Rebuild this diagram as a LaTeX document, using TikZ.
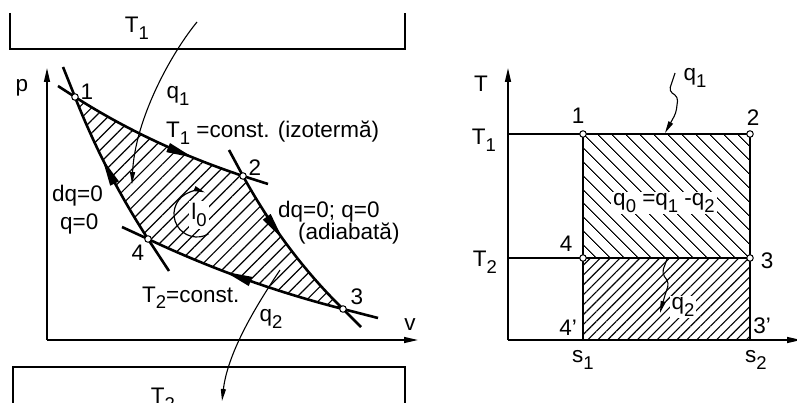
\documentclass[tikz,border=0pt]{standalone}
\usepackage{fontspec}
\setmainfont{Liberation Sans}
\usetikzlibrary{arrows.meta,patterns.meta,decorations.markings,calc}
\newcommand\sbs[1]{\raisebox{-0.55ex}{\fontsize{18.5}{18.5}\selectfont #1}}
\begin{document}
\begin{tikzpicture}[x=1pt,y=-1pt,
  lbl/.style={inner sep=0pt, font=\fontsize{22.5}{26}\selectfont},
  thk/.style={line width=2.6pt},
  thn/.style={line width=1.3pt},
  axis/.style={line width=1.4pt,-{Triangle[length=14pt,width=6pt]}},
  harr/.style={line width=1.1pt,-{Triangle[length=12pt,width=5pt]}},
  pnt/.style={circle,draw,fill=white,line width=1pt,inner sep=0pt,minimum size=6.5pt},
  midarrow/.style={postaction=decorate,decoration={markings,mark=at position #1 with {\arrow{Triangle[length=28pt,width=9pt]}}}},
  hatchA/.style={pattern={Lines[angle=45,distance=9pt,line width=1.2pt]}},
  hatchB/.style={pattern={Lines[angle=-45,distance=10.5pt,line width=1.2pt]}},
  hatchC/.style={pattern={Lines[angle=45,distance=7pt,line width=1.1pt]}},
]
\useasboundingbox (0,0) rectangle (797,403);

% ---------- reservoirs ----------
\draw[thk] (10,13) -- (10,49) -- (405,49) -- (405,13);
\draw[thk] (13,410) -- (13,367) -- (405,367) -- (405,410);
\node[lbl] (tres1) at (137,28) {T\sbs{1}};
\node[lbl] (tres2) at (163,399) {T\sbs{2}};

% ---------- p-v diagram ----------
\coordinate (O) at (47,340);
\coordinate (pEnd) at (47,68);
\coordinate (vEnd) at (418,340);
\draw[axis] (O) -- (pEnd);
\draw[axis] (O) -- (vEnd);
\node[lbl] (plab) at (22,88) {p};
\node[lbl] (vlab) at (410,325) {v};

\coordinate (A1) at (75,97);
\coordinate (A2) at (243,176);
\coordinate (A3) at (343,309);
\coordinate (A4) at (148,239);

\fill[hatchA] (A1) .. controls (127.5,130.5) and (183,156) .. (A2)
  .. controls (270,225) and (303,270) .. (A3)
  .. controls (275.7,291.9) and (210.7,268.6) .. (A4)
  .. controls (118.9,194.1) and (94.6,146.8) .. (A1) -- cycle;

\node[lbl,fill=white,inner sep=2pt] (l0) at (199,215) {l\sbs{0}};
\coordinate (C0) at (197,214);
\draw[line width=1.2pt,-{Triangle[length=11pt,width=5pt]}] ($(C0)+(60:23)$) arc[start angle=60,end angle=290,radius=23];

% extensions
\coordinate (E1a) at (58,86);
\coordinate (E1b) at (63,67);
\coordinate (E2a) at (268,184);
\coordinate (E2b) at (229,150);
\coordinate (E3a) at (378,318);
\coordinate (E3b) at (361,327);
\coordinate (E4a) at (122,227);
\coordinate (E4b) at (169,271);
\draw[thk] (E1a) -- (A1);
\draw[thk] (E1b) -- (A1);
\draw[thk] (A2) -- (E2a);
\draw[thk] (E2b) -- (A2);
\draw[thk] (A3) -- (E3a);
\draw[thk] (A3) -- (E3b);
\draw[thk] (E4a) -- (A4);
\draw[thk] (A4) -- (E4b);

\draw[thk,midarrow=0.72] (A1) .. controls (127.5,130.5) and (183,156) .. (A2);
\draw[thk,midarrow=0.45] (A2) .. controls (270,225) and (303,270) .. (A3);
\draw[thk,midarrow=0.6] (A3) .. controls (275.7,291.9) and (210.7,268.6) .. (A4);
\draw[thk,midarrow=0.58] (A4) .. controls (118.9,194.1) and (94.6,146.8) .. (A1);

\node[pnt] (n1) at (A1) {};
\node[pnt] (n2) at (A2) {};
\node[pnt] (n3) at (A3) {};
\node[pnt] (n4) at (A4) {};
\node[lbl] (l1) at (87,92) {1};
\node[lbl] (l2) at (255,168) {2};
\node[lbl] (l3) at (357,297) {3};
\node[lbl] (l4) at (138,253) {4};

% heat arrows
\coordinate (q1s) at (197,22);
\coordinate (q1e) at (132,184);
\draw[harr] (q1s) .. controls (170,55) and (135,120) .. (q1e);
\coordinate (q2s) at (280,270);
\coordinate (q2e) at (222,401);
\draw[harr] (q2s) .. controls (260,300) and (228,350) .. (q2e);
\node[lbl] (q1lab) at (178,96) {q\sbs{1}};
\node[lbl] (q2lab) at (271,319) {q\sbs{2}};

\node[lbl,anchor=base west] (iz) at (166,138) {T\sbs{1} =const. (izotermă)};
\node[lbl,anchor=base west] (t2c) at (142,302) {T\sbs{2}=const.};
\node[lbl,anchor=base west] (dq1) at (52,202) {dq=0};
\node[lbl,anchor=base west] (q0a) at (60,230) {q=0};
\node[lbl,anchor=base west] (dq2) at (278,218) {dq=0; q=0};
\node[lbl,anchor=base west] (adb) at (298,240) {(adiabată)};

% ---------- T-s diagram ----------
\coordinate (O2) at (508,340);
\coordinate (TEnd) at (508,68);
\coordinate (sEnd) at (801,340);
\coordinate (B1) at (583,134);
\coordinate (B2) at (750,134);
\coordinate (B3) at (750,258);
\coordinate (B4) at (583,258);
\coordinate (B3p) at (750,340);
\coordinate (B4p) at (583,340);
\coordinate (T1a) at (508,134);
\coordinate (T2a) at (508,258);

\fill[hatchB] (B1) rectangle (B3);
\fill[hatchC] (B4) rectangle (B3p);

\draw[axis] (O2) -- (TEnd);
\draw[axis] (O2) -- (sEnd);
\draw[thn] (T1a) -- (B1);
\draw[thn] (T2a) -- (B4);
\draw[thn] (B4) -- (B4p);
\draw[thn] (B3) -- (B3p);
\draw[thk] (B1) -- (B2) -- (B3) -- (B4) -- cycle;

\node[pnt] (m1) at (B1) {};
\node[pnt] (m2) at (B2) {};
\node[pnt] (m3) at (B3) {};
\node[pnt] (m4) at (B4) {};

\node[lbl] (Tlab) at (481,84) {T};
\node[lbl] (T1lab) at (484,140) {T\sbs{1}};
\node[lbl] (T2lab) at (485,262) {T\sbs{2}};
\node[lbl] (r1) at (578,116) {1};
\node[lbl] (r2) at (753,118) {2};
\node[lbl] (r3) at (767,261) {3};
\node[lbl] (r4) at (566,244) {4};
\node[lbl] (r4p) at (568,328) {4’};
\node[lbl] (r3p) at (762,326) {3’};
\node[lbl] (s1) at (583,360) {s\sbs{1}};
\node[lbl] (s2) at (756,360) {s\sbs{2}};
\node[lbl] (slab) at (804,330) {s};
\node[lbl,fill=white,inner sep=2pt] (q0lab) at (664,203) {q\sbs{0} =q\sbs{1} -q\sbs{2}};

\node[lbl] (rq1) at (695,78) {q\sbs{1}};
\node[lbl,fill=white,inner sep=1.5pt] (rq2) at (683,307) {q\sbs{2}};
\coordinate (w1s) at (675,73);
\coordinate (w1e) at (665,133);
\draw[harr,rounded corners=4pt] (w1s) -- (669,91) -- (678,97) -- (676,113) -- (w1e);
\coordinate (w2s) at (667,259);
\coordinate (w2e) at (660,313);
\draw[harr,rounded corners=4pt] (w2s) -- (662,273) -- (669,283) -- (665,295) -- (w2e);
\end{tikzpicture}
\end{document}
